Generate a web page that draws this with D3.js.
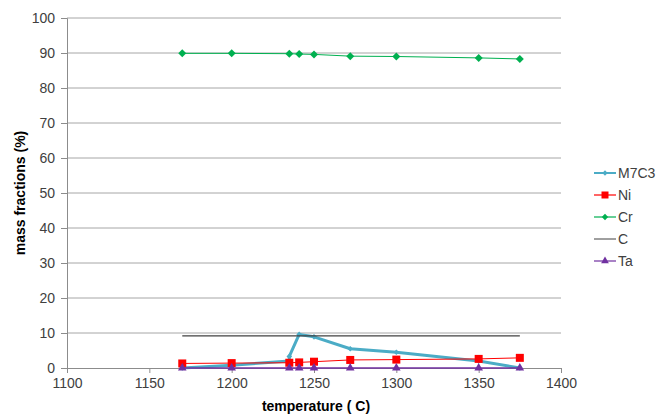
<!DOCTYPE html>
<html>
<head>
<meta charset="utf-8">
<script src="https://cdn.jsdelivr.net/npm/d3@7"></script>
<style>
  html, body { margin: 0; padding: 0; background: #fff; }
  text { font-family: "Liberation Sans", Arial, sans-serif; }
</style>
</head>
<body>
<svg id="chart" width="670" height="416"></svg>
<script>
// ---- data ----
const temps   = [1170, 1200, 1235, 1241, 1250, 1272, 1300, 1350, 1375];
const m7c3T   = [1170, 1200, 1235, 1235, 1241, 1250, 1272, 1300, 1350, 1375];
const m7c3V   = [0.0, 0.8, 2.0, 3.3, 9.6, 8.9, 5.5, 4.5, 2.0, 0.0];
const niV     = [1.3, 1.4, 1.5, 1.6, 1.8, 2.3, 2.4, 2.6, 2.9];
const crV     = [89.9, 89.9, 89.8, 89.7, 89.6, 89.1, 89.0, 88.6, 88.3];
const cT      = [1170, 1375];
const cV      = [9.2, 9.2];
const taV     = [0, 0, 0, 0, 0, 0, 0, 0, 0];
const xTicks  = [1100, 1150, 1200, 1250, 1300, 1350, 1400];
const yTicks  = [0, 10, 20, 30, 40, 50, 60, 70, 80, 90, 100];
const seriesNames = ["M7C3", "Ni", "Cr", "C", "Ta"];

// ---- layout ----
const svg = d3.select("#chart");
const mLeft = 67, mRight = 561, mTop = 18, mBottom = 368;
const x = d3.scaleLinear().domain([1100, 1400]).range([mLeft, mRight]);
const y = d3.scaleLinear().domain([0, 100]).range([mBottom, mTop]);

// gridlines
svg.append("g").selectAll("line").data(yTicks.filter(d => d > 0)).join("line")
  .attr("x1", mLeft).attr("x2", mRight)
  .attr("y1", d => y(d)).attr("y2", d => y(d))
  .attr("stroke", "#a6a6a6").attr("stroke-width", 1);

// axes
const yAxis = d3.axisLeft(y).tickValues(yTicks).tickFormat(d3.format("d")).tickSize(6).tickPadding(6);
const gy = svg.append("g").attr("transform", `translate(${mLeft},0)`).call(yAxis);
const xAxis = d3.axisBottom(x).tickValues(xTicks).tickFormat(d3.format("d")).tickSize(5).tickPadding(5);
const gx = svg.append("g").attr("transform", `translate(0,${mBottom})`).call(xAxis);
[gx, gy].forEach(g => {
  g.select(".domain").attr("stroke", "#8c8c8c");
  g.selectAll(".tick line").attr("stroke", "#8c8c8c");
  g.selectAll(".tick text").attr("fill", "#404040")
    .style("font-size", "14px").style("font-family", "Liberation Sans, Arial, sans-serif");
});

// axis titles
svg.append("text").attr("x", 316).attr("y", 411)
  .attr("text-anchor", "middle").style("font-size", "14px").style("font-weight", "bold")
  .attr("fill", "#000").text("temperature ( C)");
svg.append("text").attr("transform", `translate(25,${(mTop + mBottom) / 2}) rotate(-90)`)
  .attr("text-anchor", "middle").style("font-size", "14px").style("font-weight", "bold")
  .attr("fill", "#000").text("mass fractions (%)");

const line = d3.line().x(d => x(d[0])).y(d => y(d[1]));
const zip = (a, b) => a.map((v, i) => [v, b[i]]);

const sq = d3.symbol().type(d3.symbolSquare);
const triangle = d3.symbol().type(d3.symbolTriangle);

const series = [
  { name: "M7C3", pts: zip(m7c3T, m7c3V), color: "#4bacc6", lw: 3, sym: sq, rot: 45, size: 16, lsize: 14 },
  { name: "Ni", pts: zip(temps, niV), color: "#ff0000", lw: 1, sym: sq, rot: 0, size: 64, lsize: 49 },
  { name: "Cr", pts: zip(temps, crV), color: "#00b050", lw: 1, sym: sq, rot: 45, size: 32, lsize: 20 },
  { name: "C", pts: zip(cT, cV), color: "#404040", lw: 1.2, sym: null },
  { name: "Ta", pts: zip(temps, taV), color: "#7030a0", lw: 1.5, sym: triangle, rot: 0, size: 32, lsize: 26 }
];

series.forEach(s => {
  const g = svg.append("g");
  g.append("path").datum(s.pts).attr("d", line)
    .attr("fill", "none").attr("stroke", s.color).attr("stroke-width", s.lw)
    .attr("stroke-linejoin", "round");
  if (s.sym) {
    g.selectAll("path.m").data(s.pts).join("path").attr("class", "m")
      .attr("transform", d => `translate(${x(d[0])},${y(d[1])}) rotate(${s.rot})`)
      .attr("d", s.sym.size(s.size)()).attr("fill", s.color);
  }
});

// legend
const lg = svg.append("g").attr("transform", "translate(594,0)");
const legY = [173, 195, 217, 239, 261];
series.forEach((s, i) => {
  const ly = legY[i];
  lg.append("line").attr("x1", 0).attr("x2", 22).attr("y1", ly).attr("y2", ly)
    .attr("stroke", s.color).attr("stroke-width", s.name === "M7C3" ? 2 : (s.name === "C" ? 1 : 1.2));
  if (s.sym) {
    lg.append("path").attr("transform", `translate(11,${ly}) rotate(${s.rot})`)
      .attr("d", s.sym.size(s.lsize)()).attr("fill", s.color);
  }
  lg.append("text").attr("x", 24).attr("y", ly + 5).style("font-size", "14px")
    .attr("fill", "#404040").text(seriesNames[i]);
});
</script>
</body>
</html>
